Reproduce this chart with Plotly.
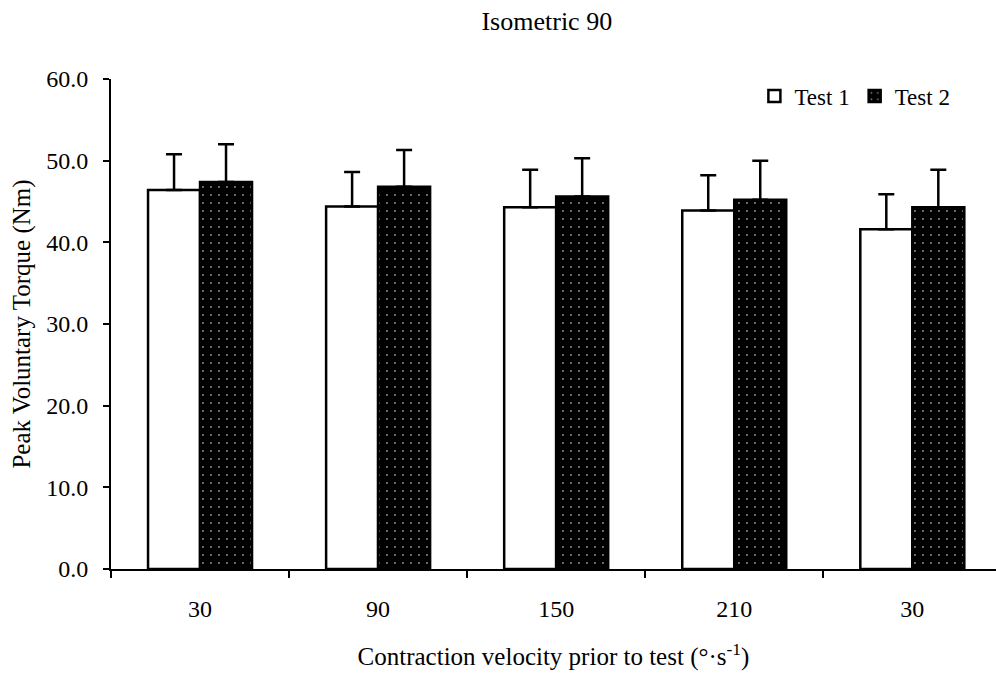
import plotly.graph_objects as go

categories = ["30", "90", "150", "210", "30"]
test1 = [46.4, 44.4, 44.3, 43.9, 41.6]
test1_err = [4.4, 4.2, 4.6, 4.3, 4.3]
test2 = [47.4, 46.8, 45.6, 45.2, 44.3]
test2_err = [4.6, 4.5, 4.7, 4.8, 4.6]
y_ticks = [0, 10, 20, 30, 40, 50, 60]

xpos = list(range(len(categories)))
FONT = "Liberation Serif, Times New Roman, serif"

fig = go.Figure()
fig.add_trace(go.Bar(
    name="Test 1", x=xpos, y=test1,
    marker=dict(color="white", line=dict(color="black", width=2.5)),
    error_y=dict(type="data", array=test1_err, arrayminus=[0] * len(test1_err),
                 symmetric=False, color="black", thickness=2.5, width=8),
))
fig.add_trace(go.Bar(
    name="Test 2", x=xpos, y=test2,
    marker=dict(color="black", line=dict(color="black", width=2.5),
                pattern=dict(shape=".", fgcolor="white", bgcolor="black",
                             size=8, solidity=0.06)),
    error_y=dict(type="data", array=test2_err, arrayminus=[0] * len(test2_err),
                 symmetric=False, color="black", thickness=2.5, width=8),
))

fig.update_layout(
    width=996, height=674,
    margin=dict(l=111, r=0, t=79, b=105),
    paper_bgcolor="white", plot_bgcolor="white",
    font=dict(family=FONT, color="black", size=23),
    barmode="group", bargap=0.416, bargroupgap=0,
    title=dict(text="Isometric 90", x=0.549, xanchor="center",
               y=1 - 21 / 674, yanchor="middle", yref="container",
               font=dict(size=26, family=FONT)),
    legend=dict(orientation="h", x=0.727, y=0.965, xanchor="left", yanchor="middle",
                font=dict(size=23, family=FONT), itemwidth=30,
                bgcolor="rgba(0,0,0,0)"),
    showlegend=True,
)
fig.update_xaxes(
    range=[-0.5, 4.47], showgrid=False, zeroline=False,
    showline=True, linecolor="black", linewidth=2,
    tickvals=xpos, ticktext=categories, ticks="",
    ticklabelstandoff=17,
    minor=dict(tickvals=[i - 0.5 for i in xpos], ticks="outside", ticklen=7,
               tickcolor="black", tickwidth=2),
    title=dict(text="Contraction velocity prior to test (°·s<sup>-1</sup>)",
               font=dict(size=25, family=FONT), standoff=27),
    tickfont=dict(size=24),
)
fig.update_yaxes(
    range=[0, 60], tickvals=y_ticks, tickformat=".1f",
    showgrid=False, zeroline=False,
    showline=True, linecolor="black", linewidth=2,
    ticks="outside", ticklen=6, tickwidth=2, tickcolor="black",
    ticklabelstandoff=10,
    title=dict(text="Peak Voluntary Torque (Nm)", font=dict(size=25, family=FONT), standoff=8),
    tickfont=dict(size=24),
)

fig.write_html("out.html")
